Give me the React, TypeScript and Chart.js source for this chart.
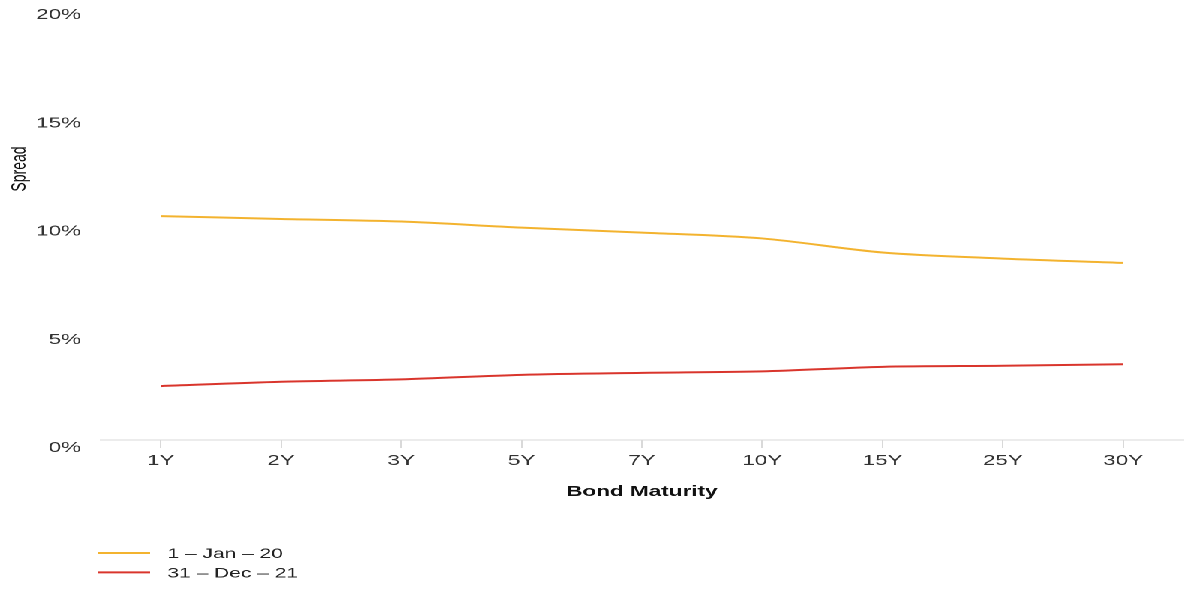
import React, { useEffect, useRef } from "react";
import { Chart, registerables } from "chart.js";

Chart.register(...registerables);

// ---- data ----
const maturities = ["1Y", "2Y", "3Y", "5Y", "7Y", "10Y", "15Y", "25Y", "30Y"];
const jan20 = [10.34, 10.21, 10.09, 9.81, 9.58, 9.31, 8.66, 8.38, 8.18];
const dec21 = [2.49, 2.69, 2.8, 3.01, 3.1, 3.17, 3.38, 3.43, 3.5];
const seriesLabels = ["1 – Jan – 20", "31 – Dec – 21"];
const seriesColors = ["#F3B32F", "#D9352C"];
const yMin = 0;
const yMax = 20;
const yStep = 5;
const xTitle = "Bond Maturity";
const yTitle = "Spread";

// ---- layout ----
const STRETCH = 1.5;
const W = 800;
const H = 590;
const FONT = "'Liberation Sans', Arial, Helvetica, sans-serif";

const titleAndLegend = {
  id: "titleAndLegend",
  afterDraw(chart: any) {
    const ctx = chart.ctx as CanvasRenderingContext2D;
    ctx.save();
    ctx.translate(13, 169);
    ctx.rotate(-Math.PI / 2);
    ctx.font = `14px ${FONT}`;
    ctx.fillStyle = "#111";
    ctx.textAlign = "center";
    ctx.textBaseline = "middle";
    ctx.fillText(yTitle, 0, 0);
    ctx.restore();

    ctx.save();
    chart.data.datasets.forEach((ds: any, i: number) => {
      const y = chart.height - 37 + i * 19.4;
      ctx.strokeStyle = ds.borderColor;
      ctx.lineWidth = 2;
      ctx.beginPath();
      ctx.moveTo(65, y);
      ctx.lineTo(100, y);
      ctx.stroke();
      ctx.fillStyle = "#222";
      ctx.font = `14px ${FONT}`;
      ctx.textAlign = "left";
      ctx.textBaseline = "middle";
      ctx.fillText(ds.label, 111.5, y + 1);
    });
    ctx.restore();
  },
};

export default function App() {
  const ref = useRef<HTMLCanvasElement | null>(null);

  useEffect(() => {
    if (!ref.current) return;
    Chart.defaults.font.family = FONT;
    const chart = new Chart(ref.current, {
      type: "line",
      data: {
        labels: maturities,
        datasets: [
          {
            label: seriesLabels[0],
            data: jan20,
            borderColor: seriesColors[0],
            backgroundColor: seriesColors[0],
            borderWidth: 2,
            pointRadius: 0,
            tension: 0.3,
            fill: false,
          },
          {
            label: seriesLabels[1],
            data: dec21,
            borderColor: seriesColors[1],
            backgroundColor: seriesColors[1],
            borderWidth: 2,
            pointRadius: 0,
            tension: 0.3,
            fill: false,
          },
        ],
      },
      options: {
        responsive: false,
        animation: false,
        devicePixelRatio: 2,
        layout: { padding: { left: 11, right: 11, top: 7, bottom: 89 } },
        plugins: {
          legend: { display: false },
          tooltip: { enabled: false },
        },
        scales: {
          x: {
            type: "category",
            offset: true,
            grid: {
              display: true,
              drawOnChartArea: false,
              drawTicks: true,
              tickLength: 8,
              color: "#d9d9d9",
              offset: false,
            },
            border: { display: true, color: "#d9d9d9" },
            ticks: {
              font: { size: 15 },
              color: "#333",
              padding: 4,
              maxRotation: 0,
              autoSkip: false,
            },
            title: {
              display: true,
              text: xTitle,
              font: { size: 15, weight: "bold" },
              color: "#111",
              padding: { top: 9, bottom: 0 },
            },
          },
          y: {
            min: yMin,
            max: yMax,
            grid: { display: false, drawTicks: false },
            border: { display: false },
            afterFit: (scale: any) => {
              scale.paddingTop = 0;
              scale.paddingBottom = 0;
            },
            ticks: {
              stepSize: yStep,
              font: { size: 15 },
              color: "#333",
              padding: 13,
              labelOffset: 8,
              callback: (v: any) => `${v}%`,
            },
          },
        },
      },
      plugins: [titleAndLegend],
    });
    return () => chart.destroy();
  }, []);

  return (
    <div
      style={{
        position: "absolute",
        left: 0,
        top: 0,
        width: W,
        height: H,
        transform: `scaleX(${STRETCH})`,
        transformOrigin: "0 0",
        background: "#fff",
      }}
    >
      <canvas ref={ref} width={W} height={H} style={{ display: "block", width: W, height: H }} />
    </div>
  );
}
